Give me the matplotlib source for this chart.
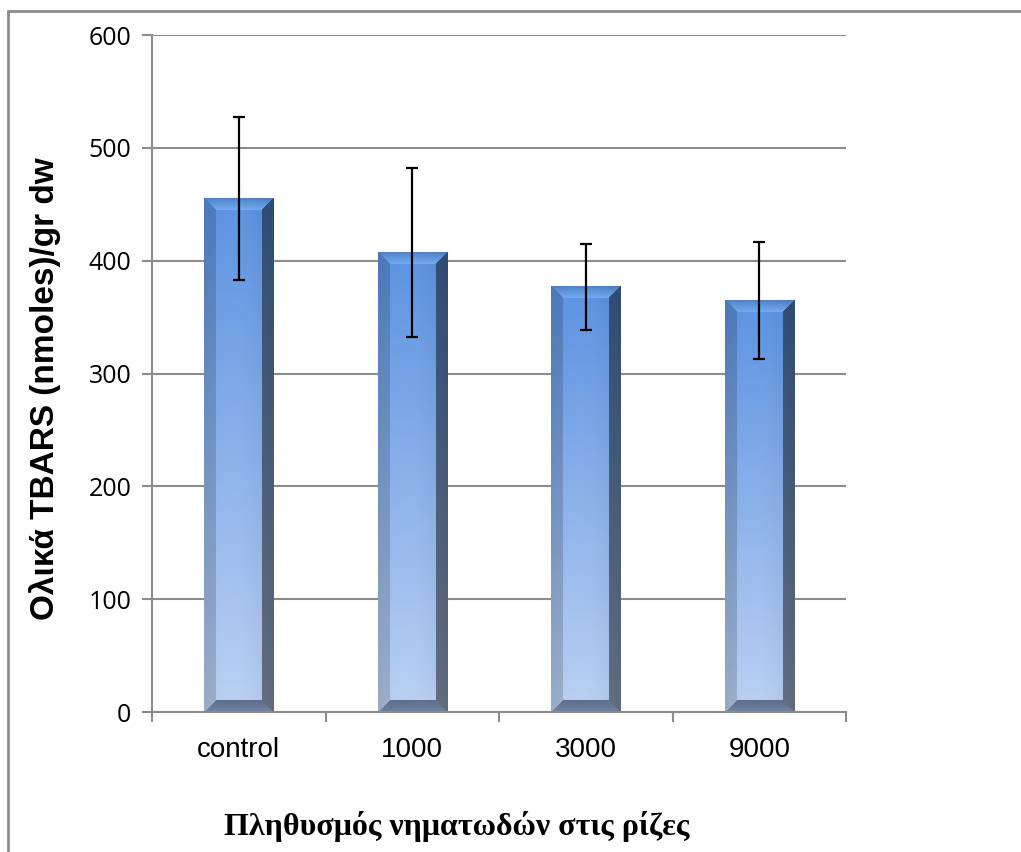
import numpy as np
import matplotlib
matplotlib.use('Agg')
import matplotlib.pyplot as plt
from matplotlib.patches import Rectangle

# data
categories = ['control', '1000', '3000', '9000']
tbars = [455, 407, 377, 365]
tbars_err = [72, 75, 38, 52]

GRAY = '#8c8c8c'
BAR_W = 0.40


def bevel_image(h_px, w_px=70, b=12):
    # vertical gradient, mid blue at top to pale blue at bottom
    t = np.linspace(0, 1, h_px)[:, None, None]
    top = np.array([0.35, 0.56, 0.86])
    bot = np.array([0.72, 0.80, 0.93])
    base = top * (1 - t) + bot * t
    img = np.repeat(base, w_px, axis=1).copy()
    xs = np.linspace(0, 1, w_px)
    shade = 1.0 + 0.05 * np.sin(np.pi * xs) - 0.05 * xs
    img *= shade[None, :, None]
    i = np.arange(h_px)[:, None]
    j = np.arange(w_px)[None, :]
    dl, dr, dt, db = j, w_px - 1 - j, i, h_px - 1 - i
    dmin = np.minimum(np.minimum(dl, dr), np.minimum(dt, db))
    inb = dmin < b
    left = inb & (dl == dmin)
    right = inb & (dr == dmin) & ~left
    topf = inb & (dt == dmin) & ~left & ~right
    botf = inb & (db == dmin) & ~left & ~right
    out = img.copy()
    out[left] = img[left] * 0.84
    out[right] = img[right] * 0.55
    # top face: highlight band fading toward the front face
    tt = (i / b)[..., None] * np.ones((1, w_px, 1))
    hl = np.array([0.45, 0.68, 0.95])
    mix = img * 0.9 * (1 - tt) + hl * tt
    out[topf] = np.clip(mix[topf], 0, 1)
    # bottom face: gray, a bit lighter toward the base edge
    bb = (db / b)[..., None] * np.ones((1, w_px, 1))
    g1 = np.array([0.44, 0.51, 0.62])
    g2 = np.array([0.36, 0.43, 0.54])
    gmix = g1 * (1 - bb) + g2 * bb
    out[botf] = gmix[botf]
    return np.clip(out, 0, 1)


fig = plt.figure(figsize=(10.21, 8.52), dpi=100)
ax = fig.add_axes([0.1489, 0.1643, 0.6797, 0.7946])

ymax = 600
ppu = 677 / 600.0
for k, (v, e) in enumerate(zip(tbars, tbars_err)):
    img = bevel_image(max(int(v * ppu), 24))
    ax.imshow(img, extent=[k - BAR_W / 2, k + BAR_W / 2, 0, v],
              aspect='auto', interpolation='bilinear', zorder=2)
    ax.errorbar(k, v, yerr=e, fmt='none', ecolor='black', elinewidth=1.6,
                capsize=4.5, capthick=1.6, zorder=3)

ax.set_xlim(-0.5, len(categories) - 0.5)
ax.set_ylim(0, ymax)
ax.set_yticks(np.arange(0, 601, 100))
ax.set_xticks(range(len(categories)))
ax.set_xticklabels(categories, fontsize=20, family='Liberation Sans')
ax.set_xticks(np.arange(-0.5, len(categories), 1), minor=True)
ax.tick_params(axis='x', which='major', length=0, pad=18)
ax.tick_params(axis='x', which='minor', length=7, width=1.5, color=GRAY)
ax.tick_params(axis='y', length=7, width=1.5, color=GRAY, labelsize=18, pad=8)
for lab in ax.get_yticklabels():
    lab.set_family('Open Sans')

ax.grid(axis='y', color=GRAY, linewidth=1.5, zorder=0)
ax.set_axisbelow(True)
for s in ['top', 'right']:
    ax.spines[s].set_visible(False)
for s in ['left', 'bottom']:
    ax.spines[s].set_color(GRAY)
    ax.spines[s].set_linewidth(1.5)

ax.set_ylabel('Ολικά TBARS (nmoles)/gr dw', fontsize=24, fontweight='bold',
              family='Liberation Sans')
ax.yaxis.set_label_coords(-0.131, 0.478)
fig.text(0.447, 0.012, 'Πληθυσμός νηματωδών στις ρίζες', ha='center', va='bottom',
         fontsize=23, fontweight='bold', family='Liberation Serif')

# outer chart border (runs off the right and bottom edges)
fig.patches.append(Rectangle((8 / 1021, -0.1), 1.2, 1 - 11 / 852 + 0.1,
                             transform=fig.transFigure, fill=False,
                             edgecolor=GRAY, linewidth=2))

fig.savefig('out.png', dpi=100)
